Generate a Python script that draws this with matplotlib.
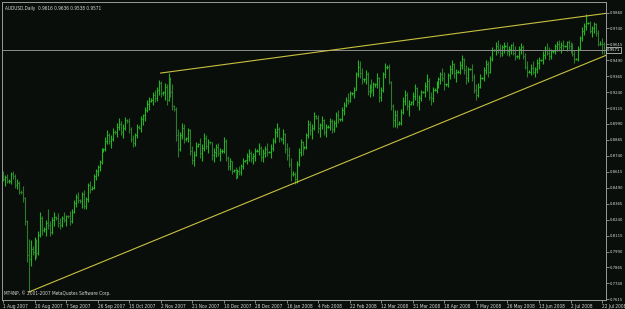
import matplotlib.pyplot as plt
import numpy as np

plt.rcParams['font.family'] = ['DejaVu Sans']
plt.rcParams['font.stretch'] = 'condensed'

# daily AUDUSD bars, prices in 1/10000
highs = [
    8620, 8590, 8600, 8555, 8610, 8625, 8600, 8560, 8545, 8470,
    8500, 8420, 8240, 8090, 8080, 8030, 8100, 8090, 8150, 8300,
    8270, 8180, 8240, 8320, 8230, 8260, 8300, 8270, 8290, 8250,
    8270, 8300, 8280, 8280, 8310, 8320, 8390, 8440, 8460, 8400,
    8460, 8470, 8420, 8530, 8540, 8500, 8600, 8640, 8670, 8710,
    8800, 8800, 8890, 8946, 8920, 8900, 8960, 8940, 9000, 9040,
    9010, 8990, 9047, 9030, 9040, 8970, 8900, 8920, 8990, 8980,
    9050, 9070, 9120, 9180, 9200, 9190, 9240, 9260, 9280, 9337,
    9330, 9250, 9310, 9300, 9390, 9360, 9300, 9140, 9120, 8950,
    8930, 9000, 8990, 8890, 8960, 8950, 8820, 8780, 8850, 8840,
    8880, 8830, 8920, 8900, 8870, 8860, 8850, 8800, 8830, 8840,
    8800, 8790, 8890, 8870, 8740, 8720, 8700, 8640, 8650, 8640,
    8660, 8680, 8720, 8710, 8760, 8790, 8780, 8760, 8800, 8790,
    8840, 8820, 8790, 8820, 8840, 8780, 8830, 8880, 8960, 9000,
    8970, 8890, 8950, 8920, 8840, 8810, 8720, 8620, 8610, 8700,
    8800, 8870, 8860, 8820, 8920, 9020, 9010, 8990, 9080, 9060,
    9060, 9000, 9050, 9030, 8990, 8980, 9040, 9030, 9020, 9080,
    9100, 9040, 9120, 9160, 9200, 9230, 9250, 9240, 9280, 9400,
    9490, 9480, 9430, 9350, 9415, 9400, 9300, 9340, 9320, 9310,
    9390, 9360, 9280, 9400, 9470, 9450, 9460, 9330, 9150, 9100,
    9100, 9010, 9110, 9200, 9260, 9240, 9180, 9170, 9240, 9300,
    9280, 9220, 9260, 9250, 9320, 9380, 9350, 9240, 9280, 9270,
    9330, 9360, 9400, 9430, 9400, 9310, 9390, 9450, 9490, 9470,
    9420, 9410, 9480, 9530, 9510, 9450, 9440, 9430, 9460, 9380,
    9300, 9310, 9380, 9360, 9440, 9490, 9480, 9520, 9594, 9580,
    9630, 9650, 9620, 9610, 9634, 9610, 9630, 9600, 9620, 9630,
    9600, 9530, 9600, 9626, 9610, 9548, 9480, 9410, 9460, 9480,
    9440, 9500, 9516, 9500, 9560, 9600, 9626, 9590, 9580, 9570,
    9620, 9640, 9650, 9630, 9650, 9610, 9640, 9650, 9630, 9626,
    9570, 9510, 9600, 9680, 9750, 9780, 9850, 9790, 9800, 9760,
    9790, 9780, 9727, 9640, 9660, 9636,
]
lows = [
    8540, 8500, 8530, 8530, 8520, 8560, 8490, 8480, 8440, 8440,
    8380, 8200, 7910, 7672, 7880, 7960, 7920, 7940, 7960, 8100,
    8120, 8140, 8110, 8170, 8110, 8130, 8190, 8240, 8180, 8165,
    8180, 8220, 8190, 8250, 8200, 8210, 8290, 8340, 8370, 8370,
    8330, 8320, 8320, 8380, 8450, 8470, 8480, 8550, 8580, 8620,
    8680, 8770, 8780, 8830, 8830, 8800, 8860, 8910, 8890, 8940,
    8900, 8880, 8940, 9000, 8920, 8850, 8810, 8820, 8880, 8950,
    8930, 8980, 9010, 9080, 9100, 9160, 9140, 9160, 9170, 9220,
    9200, 9220, 9180, 9140, 9170, 9200, 9100, 9090, 8860, 8730,
    8780, 8870, 8840, 8860, 8850, 8750, 8680, 8660, 8740, 8810,
    8720, 8700, 8780, 8790, 8760, 8830, 8710, 8690, 8730, 8740,
    8700, 8760, 8760, 8700, 8630, 8630, 8600, 8610, 8555, 8570,
    8590, 8590, 8640, 8690, 8680, 8700, 8690, 8680, 8700, 8770,
    8750, 8700, 8690, 8730, 8740, 8760, 8720, 8780, 8840, 8890,
    8850, 8860, 8830, 8760, 8710, 8650, 8540, 8580, 8520, 8530,
    8660, 8740, 8750, 8790, 8790, 8880, 8900, 8870, 8940, 9030,
    8920, 8890, 8950, 8900, 8890, 8960, 8940, 8920, 8930, 8970,
    9000, 9010, 9010, 9060, 9120, 9150, 9160, 9220, 9190, 9260,
    9360, 9350, 9300, 9320, 9300, 9220, 9200, 9230, 9210, 9280,
    9270, 9160, 9170, 9240, 9350, 9420, 9300, 9100, 8970, 8970,
    8960, 8980, 8980, 9070, 9140, 9100, 9050, 9140, 9140, 9180,
    9130, 9100, 9170, 9230, 9200, 9250, 9180, 9140, 9160, 9250,
    9230, 9270, 9300, 9330, 9260, 9290, 9280, 9340, 9380, 9350,
    9320, 9390, 9380, 9420, 9380, 9300, 9320, 9410, 9330, 9230,
    9180, 9200, 9270, 9340, 9330, 9380, 9360, 9390, 9480, 9560,
    9530, 9550, 9516, 9520, 9550, 9590, 9530, 9520, 9540, 9530,
    9493, 9510, 9500, 9540, 9500, 9420, 9360, 9390, 9370, 9380,
    9360, 9390, 9420, 9480, 9460, 9500, 9530, 9493, 9500, 9550,
    9540, 9560, 9560, 9550, 9570, 9590, 9560, 9580, 9550, 9520,
    9470, 9490, 9480, 9570, 9640, 9690, 9730, 9770, 9700, 9670,
    9700, 9680, 9600, 9610, 9540, 9538,
]
closes = [
    8560, 8575, 8540, 8545, 8595, 8580, 8510, 8530, 8460, 8455,
    8410, 8230, 7960, 7930, 8010, 7990, 8070, 7980, 8120, 8250,
    8160, 8170, 8210, 8200, 8140, 8240, 8260, 8255, 8210, 8200,
    8250, 8240, 8270, 8265, 8230, 8300, 8370, 8420, 8390, 8385,
    8440, 8350, 8400, 8510, 8480, 8490, 8580, 8620, 8650, 8690,
    8780, 8790, 8860, 8900, 8860, 8870, 8930, 8925, 8970, 8990,
    8930, 8960, 9020, 9010, 8950, 8870, 8840, 8900, 8970, 8960,
    9030, 9060, 9100, 9150, 9170, 9175, 9220, 9190, 9260, 9310,
    9230, 9240, 9280, 9180, 9340, 9240, 9130, 9110, 8900, 8790,
    8900, 8960, 8870, 8880, 8940, 8780, 8710, 8750, 8820, 8830,
    8760, 8800, 8880, 8820, 8850, 8845, 8750, 8770, 8810, 8760,
    8780, 8780, 8860, 8720, 8660, 8700, 8620, 8630, 8590, 8620,
    8610, 8660, 8700, 8705, 8740, 8760, 8720, 8740, 8780, 8780,
    8800, 8730, 8760, 8790, 8770, 8770, 8800, 8860, 8930, 8950,
    8880, 8875, 8910, 8790, 8750, 8680, 8600, 8600, 8560, 8680,
    8770, 8850, 8800, 8810, 8900, 8990, 8940, 8960, 9050, 9040,
    8960, 8980, 9020, 8930, 8970, 8970, 9010, 8950, 9000, 9060,
    9030, 9030, 9100, 9140, 9180, 9170, 9230, 9230, 9260, 9380,
    9440, 9390, 9340, 9340, 9380, 9250, 9280, 9260, 9300, 9300,
    9350, 9200, 9260, 9380, 9440, 9440, 9320, 9130, 9020, 9060,
    8990, 9000, 9080, 9170, 9220, 9130, 9150, 9160, 9210, 9270,
    9160, 9190, 9240, 9240, 9290, 9330, 9200, 9190, 9260, 9260,
    9300, 9340, 9380, 9350, 9300, 9300, 9370, 9420, 9460, 9390,
    9400, 9400, 9450, 9500, 9410, 9350, 9420, 9420, 9360, 9260,
    9220, 9280, 9350, 9350, 9410, 9460, 9400, 9500, 9570, 9570,
    9600, 9580, 9550, 9590, 9600, 9600, 9560, 9580, 9610, 9550,
    9520, 9520, 9580, 9590, 9520, 9440, 9400, 9400, 9430, 9400,
    9420, 9470, 9490, 9490, 9530, 9570, 9550, 9520, 9560, 9560,
    9600, 9620, 9590, 9610, 9600, 9600, 9630, 9600, 9580, 9540,
    9500, 9500, 9580, 9660, 9720, 9760, 9780, 9780, 9720, 9740,
    9770, 9700, 9620, 9620, 9616, 9571,
]
first_open = 8580

date_labels = ['1 Aug 2007', '20 Aug 2007', '7 Sep 2007', '26 Sep 2007', '15 Oct 2007',
               '2 Nov 2007', '21 Nov 2007', '10 Dec 2007', '28 Dec 2007', '16 Jan 2008',
               '4 Feb 2008', '22 Feb 2008', '12 Mar 2008', '31 Mar 2008', '18 Apr 2008',
               '7 May 2008', '26 May 2008', '13 Jun 2008', '2 Jul 2008', '22 Jul 2008']
bars_per_label = 16
price_ticks = [0.9860, 0.9740, 0.9615, 0.9490, 0.9365, 0.9240, 0.9115, 0.8990, 0.8865,
               0.8740, 0.8615, 0.8490, 0.8365, 0.8240, 0.8115, 0.7990, 0.7865, 0.7740, 0.7615]

upper_line = [(80, 0.9389), (306, 0.9857)]
lower_line = [(13, 0.7672), (306, 0.9528)]
bid = 0.9571
title = 'AUDUSD,Daily  0.9616 0.9636 0.9538 0.9571'
copyright = 'MT4NP, \u00a9 2001-2007 MetaQuotes Software Corp.'

bg = '#0a0e0a'
fg = '#d8d8d8'
frame = '#9a9a9a'

h = np.array(highs) / 1e4
l = np.array(lows) / 1e4
c = np.array(closes) / 1e4
o = np.concatenate([[first_open], closes[:-1]]) / 1e4
idx = np.arange(len(c))

fig = plt.figure(figsize=(6.25, 3.09), dpi=100, facecolor=bg)
ax = fig.add_axes([2 / 625, 9 / 309, 604 / 625, 298 / 309])
ax.set_facecolor(bg)

cols = np.where(c >= o, '#22b422', '#2e7a2e')
ax.vlines(idx, l, h, colors=cols, lw=0.8)
ax.hlines(o, idx - 0.5, idx, colors=cols, lw=0.8)
ax.hlines(c, idx, idx + 0.5, colors=cols, lw=0.8)

ax.axhline(bid, color='#8c8c8c', lw=0.7)
for line in (upper_line, lower_line):
    xs, ys = zip(*line)
    ax.plot(xs, ys, color='#c8c040', lw=0.8)

ax.set_xlim(-0.5, 306)
ax.set_ylim(0.7610, 0.9946)

ax.yaxis.tick_right()
ax.set_yticks(price_ticks)
ax.set_yticklabels(['%.4f' % p for p in price_ticks])
ax.set_xticks(np.arange(len(date_labels)) * bars_per_label)
ax.set_xticklabels(date_labels, ha='left')
ax.tick_params(axis='both', colors=frame, labelcolor=fg, length=2, width=0.6,
               direction='out', pad=0.8)
ax.tick_params(axis='x', labelsize=3.4)
ax.tick_params(axis='y', labelsize=3.1)
for spine in ax.spines.values():
    spine.set_color(frame)
    spine.set_linewidth(0.7)

ax.text(1.002, bid, '0.9571', transform=ax.get_yaxis_transform(), color='#ffffff',
        fontsize=3.1, va='center', ha='left', clip_on=False,
        bbox=dict(boxstyle='square,pad=0.2', fc=bg, ec='#e0e0e0', lw=0.5))
ax.text(0.005, 0.985, title, transform=ax.transAxes, color=fg, fontsize=3.4, va='top')
ax.text(0.004, 0.012, copyright, transform=ax.transAxes, color=fg, fontsize=3.4, va='bottom')

fig.savefig('out.png', dpi=100, facecolor=bg)
